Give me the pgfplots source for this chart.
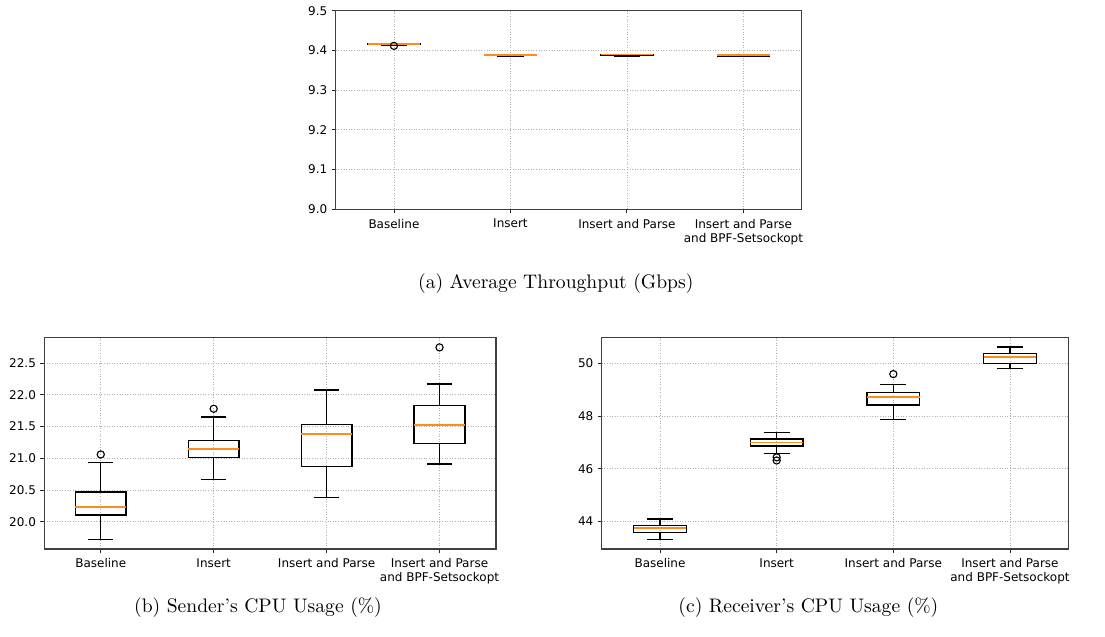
\documentclass[border=0pt]{standalone}
\usepackage{fontspec}
\usepackage{pgfplots}
\pgfplotsset{compat=1.18}
\usepgfplotslibrary{statistics}
\newfontfamily\dejavu{DejaVu Sans}
\definecolor{mplorange}{HTML}{FF8C1A}
\definecolor{gridgray}{HTML}{B0B0B0}
\pgfplotsset{
  mybox/.style={
    scale only axis,
    xmin=0.5, xmax=4.5,
    xtick={1,2,3,4},
    xticklabels={Baseline, Insert, Insert and Parse, {Insert and Parse\\and BPF-Setsockopt}},
    xticklabel style={align=center, inner sep=2.6pt, font=\dejavu\fontsize{6}{7}\selectfont},
    yticklabel style={inner sep=2pt, font=\dejavu\fontsize{6}{7}\selectfont},
    /pgf/number format/assume math mode=true,
    tick align=outside, major tick length=2pt,
    tick style={black!85, line width=0.45pt},
    tick pos=left,
    grid=major,
    major grid style={gridgray, line width=0.4pt, dash pattern=on 0.5pt off 0.8pt},
    axis line style={black!75, line width=0.65pt},
    boxplot/draw direction=y,
    boxplot/box extend=0.45,
    boxplot/whisker extend=0.225,
  },
  bx/.style={black, line width=0.7pt, mark=o, mark size=1.8pt,
    mark options={black, line width=0.55pt, fill=none},
    boxplot/every median/.style={draw=mplorange, line width=0.9pt}}
}
\begin{document}
\begin{tikzpicture}
\path (0,0) rectangle (552.5pt,-318.5pt);
% (a)
\begin{axis}[mybox, at={(167.85pt,-104.65pt)}, anchor=south west,
  width=233pt, height=99.3pt, ymin=9.0, ymax=9.5,
  ytick={9.0,9.1,9.2,9.3,9.4,9.5},
  yticklabel style={/pgf/number format/.cd, fixed, fixed zerofill, precision=1}]
\addplot[bx, boxplot prepared={draw position=1, lower whisker=9.4140, lower quartile=9.4145, median=9.4155, upper quartile=9.4162, upper whisker=9.4170}] table[row sep=\\, y index=0] {9.4115\\};
\addplot[bx, boxplot prepared={draw position=2, lower whisker=9.3855, lower quartile=9.3865, median=9.3893, upper quartile=9.3898, upper whisker=9.3903}] coordinates {};
\addplot[bx, boxplot prepared={draw position=3, lower whisker=9.3855, lower quartile=9.3870, median=9.3895, upper quartile=9.3898, upper whisker=9.3902}] coordinates {};
\addplot[bx, boxplot prepared={draw position=4, lower whisker=9.3853, lower quartile=9.3862, median=9.3890, upper quartile=9.3895, upper whisker=9.3902}] coordinates {};
\end{axis}
% (b)
\begin{axis}[mybox, at={(22.15pt,-274.5pt)}, anchor=south west,
  width=225.85pt, height=105.65pt, ymin=19.57, ymax=22.9,
  ytick={20.0,20.5,21.0,21.5,22.0,22.5},
  yticklabel style={/pgf/number format/.cd, fixed, fixed zerofill, precision=1}]
\addplot[bx, boxplot prepared={draw position=1, lower whisker=19.716, lower quartile=20.105, median=20.231, upper quartile=20.467, upper whisker=20.93}] table[row sep=\\, y index=0] {21.06\\};
\addplot[bx, boxplot prepared={draw position=2, lower whisker=20.662, lower quartile=21.014, median=21.150, upper quartile=21.282, upper whisker=21.649}] table[row sep=\\, y index=0] {21.78\\};
\addplot[bx, boxplot prepared={draw position=3, lower whisker=20.378, lower quartile=20.872, median=21.381, upper quartile=21.534, upper whisker=22.075}] coordinates {};
\addplot[bx, boxplot prepared={draw position=4, lower whisker=20.909, lower quartile=21.229, median=21.523, upper quartile=21.833, upper whisker=22.169}] table[row sep=\\, y index=0] {22.747\\};
\end{axis}
% (c)
\begin{axis}[mybox, at={(300.85pt,-274.5pt)}, anchor=south west,
  width=233.3pt, height=105.65pt, ymin=42.95, ymax=50.97,
  ytick={44,46,48,50}]
\addplot[bx, boxplot prepared={draw position=1, lower whisker=43.30, lower quartile=43.57, median=43.75, upper quartile=43.84, upper whisker=44.09}] coordinates {};
\addplot[bx, boxplot prepared={draw position=2, lower whisker=46.57, lower quartile=46.86, median=46.99, upper quartile=47.13, upper whisker=47.37}] table[row sep=\\, y index=0] {46.43\\46.31\\};
\addplot[bx, boxplot prepared={draw position=3, lower whisker=47.87, lower quartile=48.42, median=48.73, upper quartile=48.89, upper whisker=49.20}] table[row sep=\\, y index=0] {49.59\\};
\addplot[bx, boxplot prepared={draw position=4, lower whisker=49.81, lower quartile=50.00, median=50.25, upper quartile=50.38, upper whisker=50.61}] coordinates {};
\end{axis}
\node[font=\fontsize{9.8}{12}\selectfont] at (277.9pt,-142pt) {(a) Average Throughput (Gbps)};
\node[font=\fontsize{9.8}{12}\selectfont] at (129pt,-304pt) {(b) Sender's CPU Usage (\%)};
\node[font=\fontsize{9.8}{12}\selectfont] at (404.2pt,-304pt) {(c) Receiver's CPU Usage (\%)};
\end{tikzpicture}
\end{document}
